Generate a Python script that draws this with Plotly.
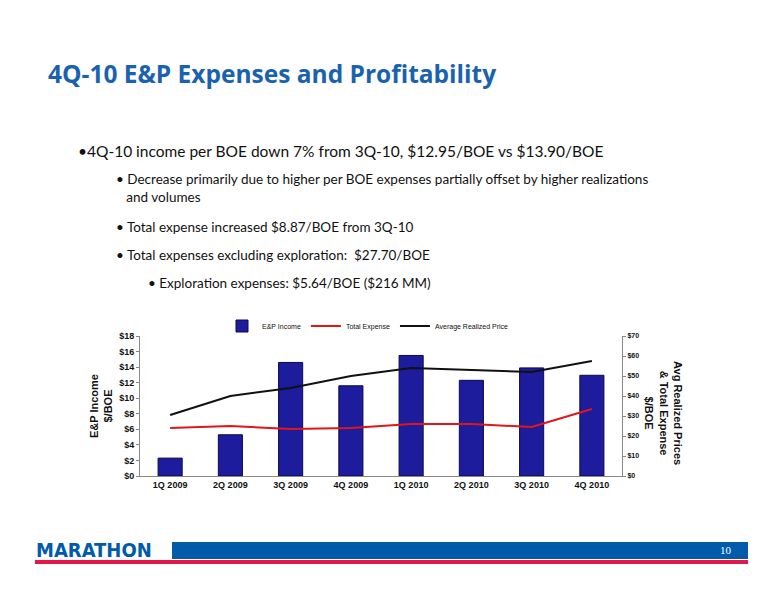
import plotly.graph_objects as go

quarters = ["1Q 2009", "2Q 2009", "3Q 2009", "4Q 2009", "1Q 2010", "2Q 2010", "3Q 2010", "4Q 2010"]
ep_income = [2.3, 5.3, 14.6, 11.6, 15.5, 12.3, 13.9, 12.95]
total_expense = [24.0, 25.0, 23.5, 24.0, 26.0, 26.0, 24.5, 33.5]
avg_price = [30.5, 40.0, 44.0, 50.0, 54.0, 53.0, 52.0, 57.5]

left_ticks = list(range(0, 19, 2))
right_ticks = list(range(0, 71, 10))

W, H = 776, 600
OFF = 8  # page body margin
def px(x): return (x - OFF) / W
def py(y): return 1 - (y - OFF) / H

fig = go.Figure()
fig.add_trace(go.Bar(x=quarters, y=ep_income, name="E&P Income", width=0.4,
                     marker=dict(color="#1c1c9c", line=dict(color="#0a0a50", width=1))))
fig.add_trace(go.Scatter(x=quarters, y=total_expense, name="Total Expense", yaxis="y2",
                         mode="lines", line=dict(color="#e0161b", width=2)))
fig.add_trace(go.Scatter(x=quarters, y=avg_price, name="Average Realized Price", yaxis="y2",
                         mode="lines", line=dict(color="#111111", width=2)))

axfont = dict(family="Liberation Sans, Arial", size=9, color="#111")
fig.update_layout(
    width=W, height=H, margin=dict(l=0, r=0, t=0, b=0, autoexpand=False),
    paper_bgcolor="white", plot_bgcolor="white", showlegend=True,
    legend=dict(orientation="h", x=px(222), y=py(326), yanchor="middle", xanchor="left",
                font=dict(family="Liberation Sans, Arial", size=7, color="#111"),
                itemwidth=30, bgcolor="rgba(0,0,0,0)"),
    xaxis=dict(domain=[px(140), px(622)], showline=True, linecolor="#888", ticks="", automargin=False,
               tickfont=dict(family="Liberation Sans, Arial", size=9, color="#111"),
               tickfont_weight="bold"),
    yaxis=dict(range=[0, 18], tickvals=left_ticks, ticktext=[f"${v}" for v in left_ticks],
               showgrid=False, showline=True, linecolor="#888", ticks="outside", ticklen=3,
               tickcolor="#888", tickfont=axfont, tickfont_weight="bold", automargin=False,
               domain=[py(476), py(336)],
               title=dict(text="E&P Income<br>$/BOE", font=dict(family="Liberation Sans, Arial", size=11, color="#111", weight="bold"), standoff=4)),
    yaxis2=dict(range=[0, 70], tickvals=right_ticks, ticktext=[f"${v}" for v in right_ticks],
                overlaying="y", side="right", showgrid=False, showline=True, linecolor="#888",
                ticks="outside", ticklen=3, tickcolor="#888", automargin=False,
                tickfont=dict(family="Liberation Sans, Arial", size=7, color="#111"), tickfont_weight="bold"),
    shapes=[
        dict(type="rect", xref="paper", yref="paper", x0=px(172), x1=px(748), y0=py(559), y1=py(542),
             fillcolor="#005bab", line_width=0),
        dict(type="rect", xref="paper", yref="paper", x0=px(35), x1=px(748), y0=py(564), y1=py(560),
             fillcolor="#e3174a", line_width=0),
    ],
    annotations=[
        dict(text="4Q-10 E&P Expenses and Profitability", xref="paper", yref="paper", x=px(46), y=py(73),
             xanchor="left", yanchor="middle", showarrow=False,
             font=dict(family="Open Sans", size=24.5, color="#1a62b0", weight="bold")),
        dict(text="•4Q-10 income per BOE down 7% from 3Q-10, $12.95/BOE vs $13.90/BOE", xref="paper", yref="paper",
             x=px(76), y=py(151), xanchor="left", yanchor="middle", showarrow=False,
             font=dict(family="Lato", size=15.5, color="#111")),
        dict(text="• Decrease primarily due to higher per BOE expenses partially offset by higher realizations<br>   and volumes",
             xref="paper", yref="paper", x=px(114), y=py(188), xanchor="left", yanchor="middle", showarrow=False,
             align="left", font=dict(family="Lato", size=13.5, color="#111")),
        dict(text="• Total expense increased $8.87/BOE from 3Q-10", xref="paper", yref="paper",
             x=px(114), y=py(227), xanchor="left", yanchor="middle", showarrow=False,
             font=dict(family="Lato", size=13.5, color="#111")),
        dict(text="• Total expenses excluding exploration:  $27.70/BOE", xref="paper", yref="paper",
             x=px(114), y=py(255), xanchor="left", yanchor="middle", showarrow=False,
             font=dict(family="Lato", size=13.5, color="#111")),
        dict(text="• Exploration expenses: $5.64/BOE ($216 MM)", xref="paper", yref="paper",
             x=px(146), y=py(283), xanchor="left", yanchor="middle", showarrow=False,
             font=dict(family="Lato", size=13.5, color="#111")),
        dict(text="Avg Realized Prices<br>& Total Expense<br>$/BOE", xref="paper", yref="paper",
             x=px(664), y=py(413), xanchor="center", yanchor="middle", showarrow=False, textangle=90,
             font=dict(family="Liberation Sans, Arial", size=11, color="#111", weight="bold")),
        dict(text="MARATHON", xref="paper", yref="paper", x=px(34), y=py(550), xanchor="left",
             yanchor="middle", showarrow=False,
             font=dict(family="DejaVu Sans Condensed", size=20, color="#005bab", weight="bold")),
        dict(text="10", xref="paper", yref="paper", x=px(726), y=py(550), xanchor="center",
             yanchor="middle", showarrow=False, font=dict(family="Liberation Serif", size=11, color="white")),
    ],
)

fig.write_html("out.html")
